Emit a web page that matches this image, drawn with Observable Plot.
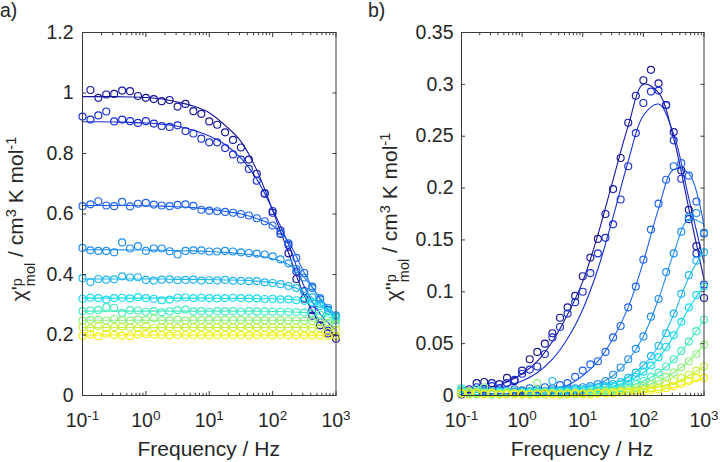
<!DOCTYPE html>
<html><head><meta charset="utf-8">
<script src="https://cdn.jsdelivr.net/npm/d3@7"></script>
<script src="https://cdn.jsdelivr.net/npm/@observablehq/plot@0.6"></script>
<style>
body{margin:0;background:#fff;}
#fig{position:relative;width:720px;height:462px;overflow:hidden;background:#fff;}
#fig svg{position:absolute;top:0;}
</style></head><body><div id="fig"></div>
<script>
// measurement frequencies (Hz)
const freq = [0.1, 0.1334, 0.1778, 0.2371, 0.3162, 0.4217, 0.5623, 0.7499, 1, 1.334, 1.778, 2.371, 3.162, 4.217, 5.623, 7.499, 10, 13.34, 17.78, 23.71, 31.62, 42.17, 56.23, 74.99, 100, 133.4, 177.8, 237.1, 316.2, 421.7, 562.3, 749.9, 1000];
// frequencies of the fitted curves (Hz)
const fitFreq = [0.1, 0.1778, 0.3162, 0.5623, 1, 1.778, 3.162, 5.623, 10, 17.78, 31.62, 56.23, 100, 177.8, 316.2, 562.3, 1000];

const seriesIds = [0, 1, 2, 3, 4, 5, 6, 7, 8, 9];
const seriesColors = ["#16169e", "#1a30d6", "#1e62f2", "#1f8ff0", "#20b6f0", "#18dced", "#44ecc0", "#8ef07c", "#c8f040", "#f2f00c"];

// chi' data (panel a)
const re1 = [null, 1.01, 0.984, 0.995, 0.997, 1.008, 1.006, 0.99, 0.984, 0.98, 0.973, 0.977, 0.955, 0.964, 0.94, 0.931, 0.906, 0.895, 0.87, 0.845, 0.82, 0.78, 0.733, 0.667, 0.604, 0.535, 0.47, 0.385, 0.32, 0.264, 0.232, 0.205, 0.188];
const re2 = [0.922, 0.912, 0.926, 0.939, 0.906, 0.912, 0.907, 0.901, 0.907, 0.899, 0.891, 0.888, 0.893, 0.874, 0.866, 0.849, 0.837, 0.837, 0.818, 0.797, 0.78, 0.749, 0.71, 0.669, 0.61, 0.545, 0.497, 0.41, 0.345, 0.282, 0.242, 0.214, 0.196];
const re3 = [0.626, 0.632, 0.642, 0.628, 0.626, 0.640, 0.625, 0.634, 0.637, 0.631, 0.628, 0.626, 0.630, 0.632, 0.627, 0.614, 0.611, 0.609, 0.607, 0.604, 0.600, 0.595, 0.586, 0.576, 0.562, 0.535, 0.503, 0.455, 0.405, 0.36, 0.318, 0.283, 0.25];
const re4 = [0.488, 0.48, 0.478, 0.478, 0.473, 0.506, 0.486, 0.494, 0.478, 0.486, 0.486, 0.477, 0.466, 0.478, 0.48, 0.48, 0.476, 0.476, 0.478, 0.476, 0.473, 0.471, 0.469, 0.466, 0.46, 0.45, 0.437, 0.418, 0.39, 0.355, 0.322, 0.29, 0.265];
const re5 = [0.388, 0.375, 0.385, 0.383, 0.384, 0.394, 0.39, 0.391, 0.382, 0.38, 0.383, 0.384, 0.381, 0.382, 0.383, 0.38, 0.381, 0.38, 0.382, 0.379, 0.379, 0.378, 0.378, 0.374, 0.372, 0.368, 0.362, 0.355, 0.342, 0.325, 0.303, 0.28, 0.258];
const re6 = [0.32, 0.323, 0.322, 0.317, 0.322, 0.323, 0.321, 0.325, 0.322, 0.32, 0.315, 0.317, 0.323, 0.324, 0.322, 0.323, 0.322, 0.321, 0.322, 0.323, 0.322, 0.321, 0.321, 0.319, 0.32, 0.318, 0.318, 0.315, 0.313, 0.308, 0.296, 0.278, 0.26];
const re7 = [0.279, 0.281, 0.283, 0.292, 0.29, 0.273, 0.282, 0.281, 0.277, 0.279, 0.275, 0.278, 0.282, 0.284, 0.278, 0.279, 0.277, 0.279, 0.278, 0.279, 0.277, 0.279, 0.278, 0.278, 0.277, 0.277, 0.276, 0.276, 0.274, 0.272, 0.267, 0.26, 0.25];
const re8 = [0.248, 0.25, 0.251, 0.248, 0.253, 0.249, 0.247, 0.251, 0.25, 0.255, 0.248, 0.249, 0.251, 0.248, 0.25, 0.249, 0.25, 0.249, 0.25, 0.249, 0.25, 0.249, 0.249, 0.249, 0.248, 0.249, 0.248, 0.248, 0.247, 0.246, 0.244, 0.241, 0.237];
const re9 = [0.226, 0.222, 0.23, 0.223, 0.226, 0.228, 0.225, 0.223, 0.23, 0.224, 0.225, 0.226, 0.224, 0.225, 0.226, 0.225, 0.225, 0.226, 0.225, 0.225, 0.226, 0.225, 0.225, 0.224, 0.225, 0.224, 0.224, 0.224, 0.223, 0.223, 0.222, 0.22, 0.217];
const re10 = [0.197, 0.202, 0.196, 0.204, 0.2, 0.198, 0.196, 0.202, 0.203, 0.201, 0.2, 0.199, 0.2, 0.2, 0.2, 0.2, 0.199, 0.2, 0.2, 0.2, 0.2, 0.199, 0.2, 0.2, 0.199, 0.2, 0.199, 0.199, 0.199, 0.198, 0.198, 0.197, 0.195];

// chi' fits (panel a)
const reFit1 = [0.988, 0.988, 0.988, 0.987, 0.985, 0.98, 0.97, 0.957, 0.935, 0.893, 0.84, 0.745, 0.612, 0.472, 0.33, 0.24, 0.2];
const reFit2 = [0.905, 0.905, 0.904, 0.903, 0.901, 0.897, 0.89, 0.877, 0.858, 0.83, 0.785, 0.715, 0.615, 0.5, 0.36, 0.27, 0.215];
const reFit3 = [0.628, 0.628, 0.628, 0.628, 0.627, 0.626, 0.624, 0.621, 0.616, 0.609, 0.6, 0.585, 0.562, 0.508, 0.405, 0.318, 0.252];
const reFit4 = [0.482, 0.482, 0.482, 0.481, 0.481, 0.48, 0.479, 0.478, 0.476, 0.473, 0.469, 0.463, 0.452, 0.433, 0.39, 0.322, 0.265];
const reFit5 = [0.385, 0.385, 0.385, 0.385, 0.385, 0.385, 0.384, 0.384, 0.383, 0.382, 0.381, 0.378, 0.373, 0.364, 0.342, 0.302, 0.258];
const reFit6 = [0.322, 0.322, 0.322, 0.322, 0.322, 0.322, 0.322, 0.322, 0.322, 0.321, 0.321, 0.32, 0.32, 0.318, 0.313, 0.297, 0.261];
const reFit7 = [0.279, 0.279, 0.279, 0.279, 0.279, 0.279, 0.279, 0.279, 0.279, 0.279, 0.279, 0.279, 0.278, 0.277, 0.274, 0.268, 0.251];
const reFit8 = [0.249, 0.249, 0.249, 0.249, 0.249, 0.249, 0.249, 0.249, 0.249, 0.249, 0.249, 0.249, 0.249, 0.249, 0.248, 0.245, 0.238];
const reFit9 = [0.225, 0.225, 0.225, 0.225, 0.225, 0.225, 0.225, 0.225, 0.225, 0.225, 0.225, 0.225, 0.225, 0.225, 0.225, 0.223, 0.218];
const reFit10 = [0.2, 0.2, 0.2, 0.2, 0.2, 0.2, 0.2, 0.2, 0.2, 0.2, 0.2, 0.2, 0.2, 0.2, 0.2, 0.199, 0.196];

// chi'' data (panel b)
const im1 = [0.001, 0.006, 0.012, 0.013, 0.012, 0.011, 0.017, 0.014, 0.024, 0.035, 0.042, 0.05, 0.06, 0.075, 0.085, 0.096, 0.115, 0.133, 0.151, 0.175, 0.199, 0.229, 0.263, 0.289, 0.304, 0.314, 0.301, 0.28, 0.254, 0.217, 0.179, 0.144, 0.094];
const im2 = [0.003, 0.004, 0.008, 0.006, 0.009, 0.007, 0.012, 0.015, 0.021, 0.025, 0.028, 0.04, 0.056, 0.066, 0.079, 0.09, 0.1, 0.118, 0.137, 0.152, 0.165, 0.189, 0.221, 0.253, 0.282, 0.293, 0.294, 0.28, 0.246, 0.209, 0.17, 0.137, 0.107];
const im3 = [0.002, 0.003, 0.002, 0.004, 0.003, 0.005, 0.004, 0.006, 0.005, 0.007, 0.006, 0.008, 0.007, 0.01, 0.012, 0.018, 0.024, 0.03, 0.033, 0.042, 0.056, 0.067, 0.085, 0.105, 0.131, 0.16, 0.185, 0.208, 0.221, 0.224, 0.212, 0.187, 0.156];
const im4 = [0.004, 0.002, 0.003, 0.005, 0.002, 0.003, 0.004, 0.003, 0.004, 0.003, 0.005, 0.004, 0.005, 0.005, 0.006, 0.007, 0.008, 0.009, 0.011, 0.014, 0.02, 0.027, 0.035, 0.045, 0.057, 0.076, 0.093, 0.119, 0.137, 0.158, 0.172, 0.176, 0.157];
const im5 = [0.004, 0.002, 0.003, 0.002, 0.004, 0.003, 0.002, 0.004, 0.003, 0.004, 0.003, 0.004, 0.014, 0.005, 0.005, 0.006, 0.006, 0.007, 0.008, 0.009, 0.011, 0.013, 0.017, 0.022, 0.029, 0.038, 0.048, 0.06, 0.079, 0.098, 0.116, 0.13, 0.138];
const im6 = [0.007, 0.003, 0.004, 0.002, 0.003, 0.004, 0.003, 0.002, 0.003, 0.004, 0.003, 0.003, 0.004, 0.004, 0.004, 0.005, 0.005, 0.006, 0.007, 0.008, 0.009, 0.011, 0.014, 0.018, 0.023, 0.029, 0.037, 0.047, 0.058, 0.071, 0.085, 0.097, 0.105];
const im7 = [0.006, 0.002, 0.006, 0.003, 0.002, 0.003, 0.004, 0.002, 0.003, 0.002, 0.004, 0.003, 0.003, 0.003, 0.003, 0.003, 0.003, 0.004, 0.005, 0.005, 0.006, 0.007, 0.009, 0.011, 0.014, 0.018, 0.022, 0.028, 0.035, 0.043, 0.052, 0.062, 0.073];
const im8 = [0.003, 0.004, 0.002, 0.008, 0.001, 0.002, 0.003, 0.002, 0.001, 0.002, 0.012, 0.003, 0.002, 0.002, 0.002, 0.001, 0.002, 0.002, 0.003, 0.004, 0.004, 0.005, 0.006, 0.007, 0.009, 0.011, 0.014, 0.018, 0.022, 0.027, 0.033, 0.04, 0.049];
const im9 = [0.002, 0.003, 0.001, 0.002, 0.003, 0.001, 0.002, 0.001, 0.002, 0.001, 0.002, 0.001, 0.002, 0.001, 0.002, 0.002, 0.002, 0.002, 0.002, 0.003, 0.003, 0.004, 0.004, 0.005, 0.006, 0.007, 0.008, 0.011, 0.014, 0.017, 0.02, 0.024, 0.028];
const im10 = [0.002, 0.001, 0.003, 0.001, 0.002, 0.001, 0.001, 0.002, 0.001, 0.001, 0.001, 0.002, 0.001, 0.001, 0.001, 0.002, 0.001, 0.001, 0.002, 0.002, 0.002, 0.003, 0.003, 0.003, 0.004, 0.005, 0.006, 0.007, 0.009, 0.011, 0.014, 0.017, 0.017];

// chi'' fits (panel b)
const imFit1 = [0.003, 0.005, 0.008, 0.013, 0.021, 0.033, 0.052, 0.078, 0.11, 0.155, 0.208, 0.26, 0.3, 0.292, 0.248, 0.18, 0.112];
const imFit2 = [0.002, 0.003, 0.005, 0.009, 0.014, 0.022, 0.035, 0.055, 0.083, 0.122, 0.172, 0.226, 0.27, 0.281, 0.252, 0.19, 0.128];
const imFit3 = [0.001, 0.001, 0.002, 0.002, 0.003, 0.004, 0.006, 0.01, 0.019, 0.033, 0.055, 0.085, 0.129, 0.18, 0.218, 0.214, 0.163];
const imFit4 = [0.001, 0.001, 0.001, 0.002, 0.002, 0.003, 0.004, 0.005, 0.007, 0.011, 0.019, 0.034, 0.057, 0.093, 0.137, 0.17, 0.165];
const imFit5 = [0.001, 0.001, 0.001, 0.001, 0.002, 0.002, 0.003, 0.004, 0.005, 0.007, 0.011, 0.018, 0.029, 0.048, 0.078, 0.114, 0.14];
const imFit6 = [0.001, 0.001, 0.001, 0.001, 0.001, 0.002, 0.002, 0.003, 0.004, 0.006, 0.009, 0.014, 0.022, 0.036, 0.057, 0.084, 0.106];
const imFit7 = [0.001, 0.001, 0.001, 0.001, 0.001, 0.001, 0.002, 0.002, 0.003, 0.004, 0.006, 0.009, 0.014, 0.022, 0.034, 0.052, 0.073];
const imFit8 = [0, 0, 0.001, 0.001, 0.001, 0.001, 0.001, 0.002, 0.002, 0.003, 0.004, 0.006, 0.009, 0.014, 0.022, 0.033, 0.049];
const imFit9 = [0, 0, 0, 0.001, 0.001, 0.001, 0.001, 0.001, 0.001, 0.002, 0.003, 0.004, 0.006, 0.008, 0.012, 0.019, 0.028];
const imFit10 = [0, 0, 0, 0, 0.001, 0.001, 0.001, 0.001, 0.001, 0.001, 0.002, 0.003, 0.004, 0.005, 0.008, 0.012, 0.017];

// axis ticks and labels
const xTicks = [0.1, 1, 10, 100, 1000];
const xTickExponents = ["-1", "0", "1", "2", "3"];
const xMinorTicks = [0.2, 0.3, 0.4, 0.5, 0.6, 0.7, 0.8, 0.9, 2, 3, 4, 5, 6, 7, 8, 9, 20, 30, 40, 50, 60, 70, 80, 90, 200, 300, 400, 500, 600, 700, 800, 900];
const yTicksA = [0, 0.2, 0.4, 0.6, 0.8, 1, 1.2];
const yTicksB = [0, 0.05, 0.1, 0.15, 0.2, 0.25, 0.3, 0.35];
const xTitle = "Frequency / Hz";
const panelLabels = ["a)", "b)"];

const reSeries = [re1, re2, re3, re4, re5, re6, re7, re8, re9, re10];
const reFits = [reFit1, reFit2, reFit3, reFit4, reFit5, reFit6, reFit7, reFit8, reFit9, reFit10];
const imSeries = [im1, im2, im3, im4, im5, im6, im7, im8, im9, im10];
const imFits = [imFit1, imFit2, imFit3, imFit4, imFit5, imFit6, imFit7, imFit8, imFit9, imFit10];

const tidy = (arrs, fs) => arrs.flatMap((vals, s) => vals.map((v, k) => ({f: fs[k], v, s: seriesIds[s]})).filter(d => d.v != null));

const FONT = '"Liberation Sans", Arial, Helvetica, sans-serif';
const AX = "#3a3a3a";
const TXT = "#262626";
const TICK_FS = 19.5;
const LABEL_FS = 21;

function panel({marginLeft, marginRight, yDomain, yTicks, pts, fits, yPad}) {
  const fmtX = (d) => "10^" + xTickExponents[xTicks.indexOf(d)];
  return Plot.plot({
    width: 360, height: 462,
    marginTop: 32, marginBottom: 67, marginLeft, marginRight,
    style: {fontFamily: FONT, fontSize: TICK_FS + "px", color: TXT, background: "transparent", overflow: "visible"},
    x: {type: "log", domain: [0.1, 1000]},
    y: {domain: yDomain},
    color: {type: "ordinal", domain: seriesIds, range: seriesColors},
    marks: [
      Plot.line(fits, {x: "f", y: "v", z: "s", stroke: "s", curve: "catmull-rom", strokeWidth: 1.1}),
      Plot.dot(pts, {x: "f", y: "v", stroke: "s", r: 3.5, strokeWidth: 1.15, fill: "none"}),
      Plot.frame({stroke: AX, strokeWidth: 1}),
      Plot.axisX(xTicks, {anchor: "bottom", tickSize: -4, tickPadding: 22, tickFormat: fmtX, stroke: AX, label: null}),
      Plot.axisX(xMinorTicks, {anchor: "bottom", tickSize: -2.2, tickFormat: () => "", stroke: AX, label: null}),
      Plot.axisX(xTicks, {anchor: "top", tickSize: -4, tickFormat: () => "", stroke: AX, label: null}),
      Plot.axisX(xMinorTicks, {anchor: "top", tickSize: -2.2, tickFormat: () => "", stroke: AX, label: null}),
      Plot.axisY(yTicks, {anchor: "left", tickSize: -4, tickPadding: yPad, tickFormat: d => String(d), stroke: AX, label: null}),
      Plot.axisY(yTicks, {anchor: "right", tickSize: -4, tickFormat: () => "", stroke: AX, label: null})
    ]
  });
}

const NS = "http://www.w3.org/2000/svg";
function fixExponents(svg) {
  svg.querySelectorAll('g[aria-label="x-axis tick label"] text').forEach(t => {
    const parts = t.textContent.split("^");
    if (parts.length !== 2) return;
    t.textContent = "";
    const a = document.createElementNS(NS, "tspan"); a.textContent = parts[0]; t.appendChild(a);
    const b = document.createElementNS(NS, "tspan"); b.setAttribute("dy", "-7"); b.setAttribute("font-size", "13.5"); b.textContent = parts[1]; t.appendChild(b);
  });
}
function addTexts(svg, {xTitleX, yTitleX, yTitleY, primes, label, labelX}) {
  const s = d3.select(svg);
  s.append("text").attr("x", xTitleX).attr("y", 456).attr("text-anchor", "middle")
    .attr("font-size", LABEL_FS).attr("fill", TXT).attr("font-family", FONT).text(xTitle);
  s.append("text").attr("x", labelX).attr("y", 17).attr("text-anchor", "start")
    .attr("font-size", TICK_FS).attr("fill", TXT).attr("font-family", FONT).text(label);
  const t = s.append("text").attr("transform", `translate(${yTitleX},${yTitleY}) rotate(-90)`)
    .attr("text-anchor", "middle").attr("font-size", LABEL_FS).attr("fill", TXT).attr("font-family", FONT);
  t.append("tspan").attr("dy", 3).text("χ" + primes);
  t.append("tspan").attr("dy", -4).attr("font-size", 14.5).text("p");
  t.append("tspan").attr("dx", -8).attr("dy", 13).attr("font-size", 14.5).text("mol");
  t.append("tspan").attr("dy", -12).text(" / cm");
  t.append("tspan").attr("dy", -7.5).attr("font-size", 14.5).text("3");
  t.append("tspan").attr("dy", 7.5).text(" K mol");
  t.append("tspan").attr("dy", -7.5).attr("font-size", 14.5).text("-1");
}

const fig = document.getElementById("fig");

const A = panel({marginLeft: 82, marginRight: 24.5, yDomain: [0, 1.2], yTicks: yTicksA,
  pts: tidy(reSeries, freq), fits: tidy(reFits, fitFreq), yPad: 13});
A.style.left = "0px";
fig.appendChild(A);
fixExponents(A);
addTexts(A, {xTitleX: 208.7, yTitleX: 23, yTitleY: 219, primes: "'", label: panelLabels[0], labelX: 0});

const B = panel({marginLeft: 101, marginRight: 16.5, yDomain: [0, 0.35], yTicks: yTicksB,
  pts: tidy(imSeries, freq), fits: tidy(imFits, fitFreq), yPad: 12});
B.style.left = "360px";
fig.appendChild(B);
fixExponents(B);
addTexts(B, {xTitleX: 222, yTitleX: 37, yTitleY: 217, primes: "''", label: panelLabels[1], labelX: 8});
</script>
</body></html>
